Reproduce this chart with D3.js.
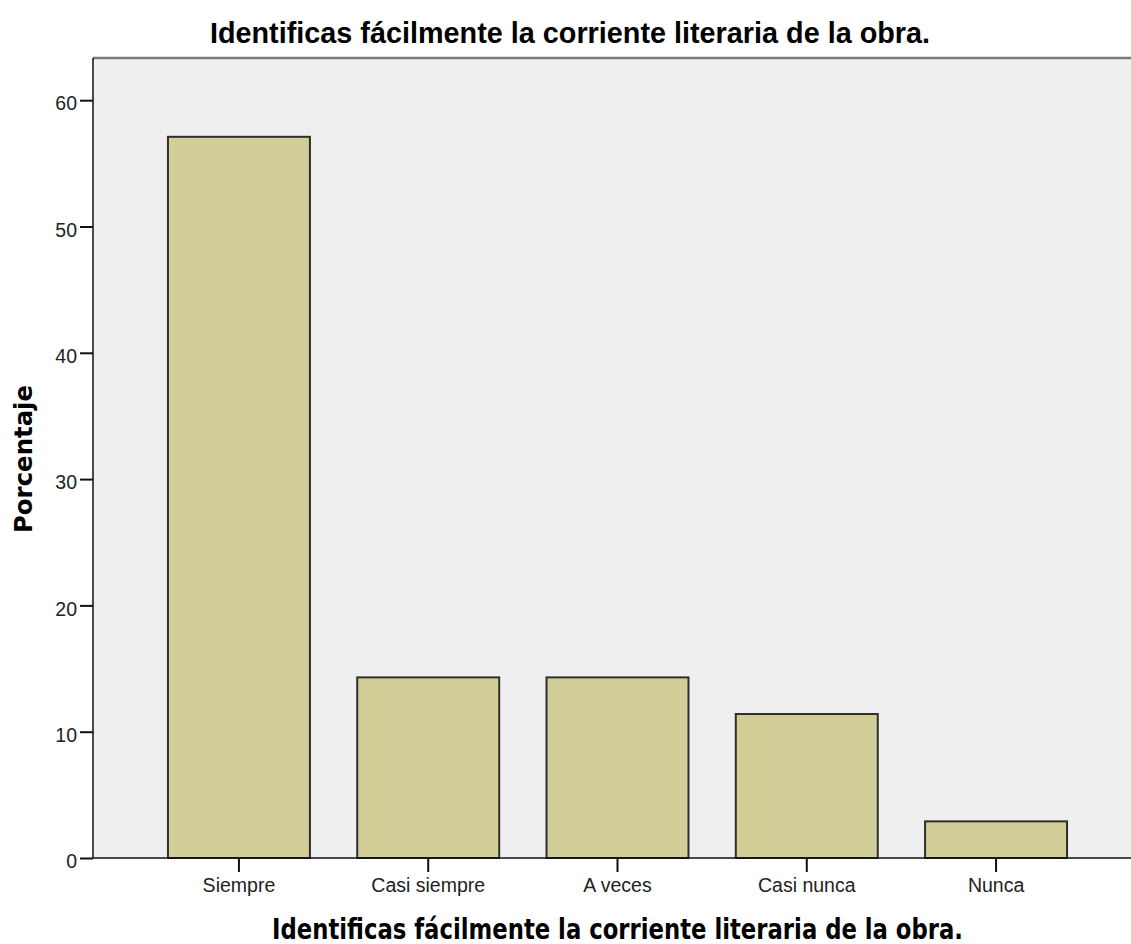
<!DOCTYPE html>
<html>
<head>
<meta charset="utf-8">
<script src="https://cdn.jsdelivr.net/npm/d3@7"></script>
<style>
  body { margin: 0; background: #fff; }
  svg { display: block; }
  .tick text { font-family: "Liberation Sans", Arial, sans-serif; font-size: 19.5px; fill: #222; }
</style>
</head>
<body>
<svg id="chart" width="1131" height="944"></svg>
<script>
const categories = ['Siempre', 'Casi siempre', 'A veces', 'Casi nunca', 'Nunca']
const percents = [57.1, 14.3, 14.3, 11.4, 2.9]
const yTicks = [0, 10, 20, 30, 40, 50, 60]
const chartTitle = 'Identificas fácilmente la corriente literaria de la obra.'
const xTitle = 'Identificas fácilmente la corriente literaria de la obra.'
const yTitle = 'Porcentaje'

const plotLeft = 93
const plotRight = 1142
const plotTop = 58
const plotBottom = 858

const svg = d3.select('#chart')

const xScale = d3.scaleBand()
  .domain(categories)
  .range([plotLeft, plotRight])
  .paddingInner(0.25)
  .paddingOuter(0.396)

const yScale = d3.scaleLinear()
  .domain([0, 63.34])
  .range([plotBottom, plotTop])

// plot background
svg.append('rect')
  .attr('x', plotLeft)
  .attr('y', plotTop)
  .attr('width', plotRight - plotLeft)
  .attr('height', plotBottom - plotTop)
  .attr('fill', '#efefef')

// top frame line
svg.append('line')
  .attr('x1', plotLeft)
  .attr('x2', plotRight)
  .attr('y1', plotTop)
  .attr('y2', plotTop)
  .attr('stroke', '#7a7a7a')
  .attr('stroke-width', 2.5)

// bars
svg.selectAll('.bar')
  .data(categories)
  .enter()
  .append('rect')
  .attr('class', 'bar')
  .attr('x', d => xScale(d))
  .attr('y', (d, i) => yScale(percents[i]))
  .attr('width', xScale.bandwidth())
  .attr('height', (d, i) => yScale(0) - yScale(percents[i]))
  .attr('fill', '#d3ce97')
  .attr('stroke', '#2e2e2a')
  .attr('stroke-width', 2)

// y axis
const yAxis = d3.axisLeft(yScale)
  .tickValues(yTicks)
  .tickSize(13)
  .tickPadding(3)
svg.append('g')
  .attr('transform', 'translate(' + plotLeft + ',0)')
  .call(yAxis)
  .call(g => g.select('.domain').attr('stroke', '#111').attr('stroke-width', 1.5).attr('d', 'M0,' + plotTop + 'V' + plotBottom))
  .call(g => g.selectAll('.tick line').attr('stroke', '#111').attr('stroke-width', 2))
  .call(g => g.selectAll('.tick text').attr('dy', '0.5em'))

// x axis
const xAxis = d3.axisBottom(xScale)
  .tickSize(14)
  .tickPadding(6)
svg.append('g')
  .attr('transform', 'translate(0,' + plotBottom + ')')
  .call(xAxis)
  .call(g => g.select('.domain').attr('stroke', '#111').attr('stroke-width', 1.5).attr('d', 'M' + plotLeft + ',0H' + plotRight))
  .call(g => g.selectAll('.tick line').attr('stroke', '#111').attr('stroke-width', 2))

// titles
svg.append('text')
  .attr('x', 570)
  .attr('y', 42.5)
  .attr('text-anchor', 'middle')
  .style('font-family', '"Liberation Sans", Arial, sans-serif')
  .style('font-weight', 'bold')
  .style('font-size', '28.8px')
  .attr('fill', '#000')
  .text(chartTitle)

svg.append('text')
  .attr('x', 617.5)
  .attr('y', 939)
  .attr('text-anchor', 'middle')
  .attr('textLength', 691)
  .attr('lengthAdjust', 'spacingAndGlyphs')
  .style('font-family', '"DejaVu Sans", Verdana, sans-serif')
  .style('font-weight', 'bold')
  .style('font-size', '27.5px')
  .attr('fill', '#000')
  .text(xTitle)

svg.append('text')
  .attr('transform', 'translate(32,459) rotate(-90)')
  .attr('text-anchor', 'middle')
  .attr('textLength', 148)
  .attr('lengthAdjust', 'spacingAndGlyphs')
  .style('font-family', '"DejaVu Sans", Verdana, sans-serif')
  .style('font-weight', 'bold')
  .style('font-size', '25.5px')
  .attr('fill', '#000')
  .text(yTitle)
</script>
</body>
</html>
